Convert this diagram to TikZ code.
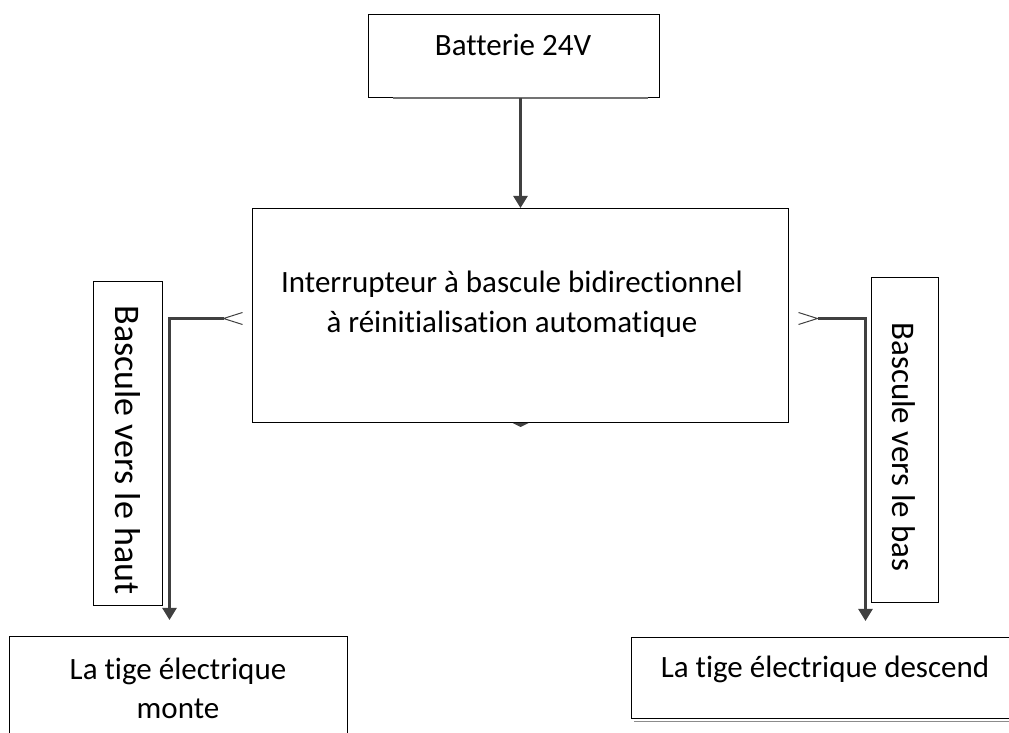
\documentclass[tikz,border=0pt]{standalone}
\usepackage{fontspec}
\setmainfont{Carlito}[Ligatures=NoCommon]
\usetikzlibrary{arrows.meta}

\tikzset{
  box/.style={draw, line width=0.5pt, inner sep=0pt, anchor=north west},
  link/.style={draw=black!75, line width=1.2pt},
  downtip/.style={-{Triangle[length=6pt,width=7pt]}},
  barb/.style={{Straight Barb[reversed,length=9.5pt,width=6pt,line width=0.5pt,sep=4.5pt]}-{Triangle[length=6pt,width=7pt]}},
}

\begin{document}
\begin{tikzpicture}[x=0.5pt, y=-0.5pt, font=\fontsize{15.5}{20}\selectfont]
\useasboundingbox (0,0) rectangle (1009,733);

% boxes
\node[box, minimum width=145.5pt, minimum height=41.5pt] (batt) at (368,14) {};
\node[box, minimum width=268pt, minimum height=107pt] (switch) at (252,208) {};
\node[box, minimum width=34.5pt, minimum height=162pt] (uplabel) at (93,281) {};
\node[box, minimum width=33.5pt, minimum height=162.5pt] (downlabel) at (871,277) {};
\node[box, minimum width=169pt, minimum height=62pt] (rise) at (9,636) {};
\node[box, minimum width=194.5pt, minimum height=40.5pt] (fall) at (631,637) {};

% shadows
\draw[black!55, line width=1pt] (393,98.5) -- (648,98.5);
\draw[black!45, line width=0.8pt] (634,721.5) -- (1009,721.5);

% texts
\node (batttext) at (513,45) {Batterie 24V};
\node[align=center] (switchtext) at (512,304) {Interrupteur à bascule bidirectionnel\\à réinitialisation automatique};
\node[rotate=-90, font=\fontsize{18}{20}\selectfont] (uptext) at (128,450) {Bascule vers le haut};
\node[rotate=-90, font=\fontsize{16.5}{20}\selectfont] (downtext) at (904,447) {Bascule vers le bas};
\node[align=center, font=\fontsize{15.5}{19.5}\selectfont] (risetext) at (178,688) {La tige électrique\\monte};
\node (falltext) at (825,669) {La tige électrique descend};

% connectors
\draw[link, downtip] (batt.south -| switch.north) -- (switch.north);
\draw[link, barb, shorten >=8pt] ([yshift=-1.5pt]switch.west) -| ([xshift=-4.5pt]rise.north);
\draw[link, barb, shorten >=8pt] ([yshift=-1.5pt]switch.east) -| ([xshift=19.75pt]fall.north);
\fill[black!75] ([xshift=-4pt]switch.south) -- ([xshift=4pt]switch.south) -- ([yshift=-2pt]switch.south) -- cycle;
\end{tikzpicture}
\end{document}
